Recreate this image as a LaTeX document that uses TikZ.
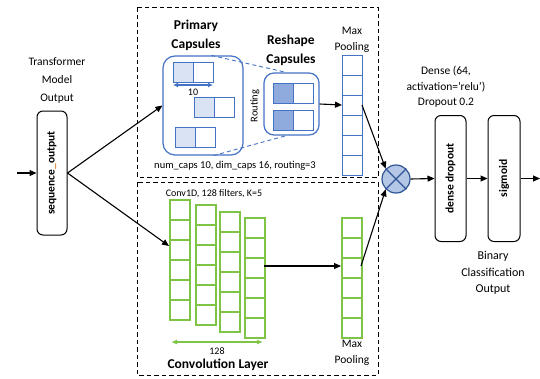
\documentclass[tikz,border=0pt]{standalone}
\usepackage{fontspec}
\setmainfont{Carlito}
\usetikzlibrary{arrows.meta,calc}
\definecolor{capblue}{HTML}{4472C4}
\definecolor{lightcap}{HTML}{DAE3F3}
\definecolor{darkcap}{HTML}{8FAADC}
\definecolor{circfill}{HTML}{B4C7E7}
\definecolor{circline}{HTML}{2F5597}
\definecolor{convgreen}{HTML}{7DC447}
\definecolor{uscore}{HTML}{E07B20}
\tikzset{
  arr/.style={draw=black, line width=1.1pt, -{Triangle[length=7pt,width=6pt]}},
  dashbox/.style={draw=black, line width=0.9pt, dash pattern=on 4.5pt off 3pt},
  gcell/.style={draw=convgreen, line width=1.5pt, minimum width=20pt, minimum height=20pt, inner sep=0pt, anchor=north west},
  bcell/.style={draw=capblue, line width=1pt, minimum width=20pt, minimum height=20pt, inner sep=0pt, anchor=north west},
  procbox/.style={draw=black, line width=1pt, rounded corners=6pt, inner sep=0pt, font=\fontsize{11}{12}\selectfont\bfseries},
  capbox/.style={draw=capblue, line width=1.2pt, inner sep=0pt},
  lbl/.style={align=center, inner sep=0pt, font=\fontsize{11.5}{18}\selectfont},
  blbl/.style={align=center, inner sep=0pt, font=\fontsize{13.5}{19}\selectfont\bfseries},
}
\begin{document}
\begin{tikzpicture}[x=1pt,y=-1pt]
\useasboundingbox (0,0) rectangle (540,378);
\fill[white] (0,0) rectangle (540,378);

% dashed group boxes
\draw[dashbox] (137,7) rectangle (378,177);
\draw[dashbox] (137,182) rectangle (378,375);

% left input
\node[lbl] (tmo) at (57,80) {Transformer\\Model\\Output};
\node[procbox, minimum width=30pt, minimum height=124pt] (seq) at (52,173) {};
\node[rotate=90, inner sep=0pt, font=\fontsize{11.5}{12}\selectfont\bfseries] (seqt) at (seq.center) {sequence{\color{uscore}\_}output};
\coordinate (inp) at (17,173);
\draw[arr] (inp) -- (seq.west);

% primary capsules
\node[blbl] (primt) at (196,35) {Primary\\Capsules};
\node[capbox, rounded corners=12pt, minimum width=80pt, minimum height=99pt] (prim) at (203,105.5) {};
\foreach \r/\x/\y in {1/173/62, 2/194/97, 3/175/127} {
  \node[bcell, fill=lightcap] (p\r a) at (\x,\y) {};
  \node[bcell] (p\r b) at (\x+20,\y) {};
}
\coordinate (tenL) at (173,85);
\coordinate (tenR) at (213,85);
\draw[capblue, line width=1.3pt, {Latex[length=5pt,width=5pt]}-{Latex[length=5pt,width=5pt]}] (tenL) -- (tenR);
\node[inner sep=0pt, font=\fontsize{10}{12}\selectfont] (ten) at (193,92) {10};

% reshape capsules
\node[blbl] (resht) at (291,50) {Reshape\\Capsules};
\node[capbox, rounded corners=10pt, minimum width=55pt, minimum height=62pt] (resh) at (291.5,104) {};
\foreach \r/\y in {1/83, 2/110} {
  \node[bcell, fill=darkcap] (r\r a) at (273,\y) {};
  \node[bcell] (r\r b) at (293,\y) {};
}
\node[rotate=90, inner sep=0pt, font=\fontsize{10.5}{12}\selectfont] (rout) at (255,106) {Routing};
\draw[capblue, line width=0.9pt, dash pattern=on 4pt off 3pt] ($(prim.north west)+(49,0)$) -- ($(resh.north west)+(23,0)$);
\draw[capblue, line width=0.9pt, dash pattern=on 4pt off 3pt] ($(prim.south west)+(51,0)$) -- ($(resh.south west)+(23,0)$);
\node[inner sep=0pt, font=\fontsize{10.5}{12}\selectfont] (caps) at (235,166) {num\_caps 10, dim\_caps 16, routing=3};

% blue max pooling
\node[lbl, font=\fontsize{11.5}{16}\selectfont] (bmp) at (352,40) {Max\\Pooling};
\foreach \i in {0,...,5} { \node[bcell] (b\i) at (342,55+\i*20) {}; }
\coordinate (bin) at (342,105);
\coordinate (bout) at (362,105);
\draw[arr] (resh.east) -- (bin);

% convolution
\node[inner sep=0pt, font=\fontsize{10}{12}\selectfont] (convt) at (214,194) {Conv1D, 128 filters, K=5};
\foreach \c/\x/\y in {1/169/199, 2/195/204, 3/219/211, 4/244/217} {
  \foreach \i in {0,...,5} { \node[gcell] (c\c-\i) at (\x,\y+\i*20) {}; }
}
\coordinate (cin) at (169,246);
\coordinate (cout) at (264,266);
\foreach \i in {0,...,5} { \node[gcell] (g\i) at (341,217+\i*20) {}; }
\coordinate (gin) at (341,266);
\coordinate (gout) at (361,266);
\draw[arr] (cout) -- (gin);
\coordinate (wL) at (171,342);
\coordinate (wR) at (263,342);
\draw[convgreen, line width=1.4pt, {Latex[length=6pt,width=5pt]}-{Latex[length=6pt,width=5pt]}] (wL) -- (wR);
\node[inner sep=0pt, font=\fontsize{10}{12}\selectfont] (w128) at (217,351) {128};
\node[inner sep=0pt, font=\fontsize{13.5}{16}\selectfont\bfseries] (convl) at (218,365) {Convolution Layer};
\node[lbl, font=\fontsize{11.5}{16}\selectfont] (gmp) at (352,353) {Max\\Pooling};

% arrows from sequence_output
\draw[arr] (seq.east) -- (prim.west);
\draw[arr] (seq.east) -- (cin);

% merge
\node[circle, draw=circline, fill=circfill, line width=1.2pt, minimum size=28pt, inner sep=0pt] (mul) at (396,179) {};
\draw[circline, line width=1.1pt] (mul.north west) -- (mul.south east) (mul.north east) -- (mul.south west);
\draw[arr] (bout) -- (mul.north west);
\draw[arr] (gout) -- (mul.south west);

% dense and sigmoid
\node[lbl, font=\fontsize{11.5}{15.5}\selectfont] (denset) at (446,87) {Dense (64,\\activation='relu')\\Dropout 0.2};
\node[procbox, minimum width=31pt, minimum height=126pt] (dense) at (450.5,178.5) {};
\node[rotate=90, inner sep=0pt, font=\fontsize{11.5}{12}\selectfont\bfseries] (denseL) at (dense.center) {dense dropout};
\node[procbox, minimum width=32pt, minimum height=126pt] (sig) at (504,178.5) {};
\node[rotate=90, inner sep=0pt, font=\fontsize{11.5}{12}\selectfont\bfseries] (sigL) at (sig.center) {sigmoid};
\coordinate (outp) at (540,178.5);
\draw[arr] (mul.east) -- (dense.west);
\draw[arr] (dense.east) -- (sig.west);
\draw[arr] (sig.east) -- (outp);
\node[lbl, font=\fontsize{12}{16.5}\selectfont] (bco) at (493,273) {Binary\\Classification\\Output};
\end{tikzpicture}
\end{document}
